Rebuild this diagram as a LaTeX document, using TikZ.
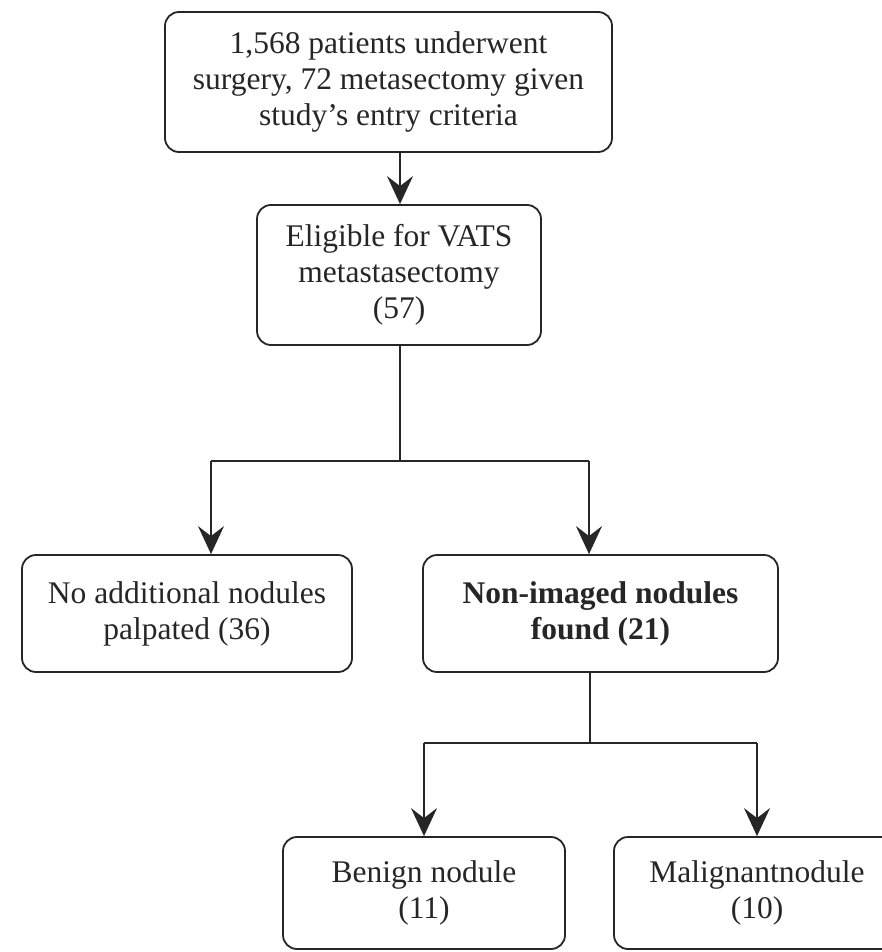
\documentclass[tikz,border=0pt]{standalone}
\usepackage{fontspec}
\setmainfont{Liberation Serif}
\usetikzlibrary{arrows.meta}
\begin{document}
\begin{tikzpicture}[x=0.5pt,y=-0.5pt,
  box/.style={draw=black!85, line width=0.9pt, rounded corners=7pt, align=center,
    inner sep=0pt, font=\fontsize{15.75}{18}\selectfont, text=black!85},
  conn/.style={draw=black!85, line width=0.8pt},
  arr/.style={conn, -{Stealth[length=14pt,width=13pt,inset=5pt]}}]
\useasboundingbox (0,0) rectangle (882,952);
\begin{scope}
\clip (0,0) rectangle (882,952);
\node[box, minimum width=223.5pt, minimum height=70pt] (top) at (388.5,82)
  {1,568 patients underwent\\surgery, 72 metasectomy given\\study's entry criteria};
\node[box, minimum width=142pt, minimum height=70pt] (elig) at (399,275)
  {Eligible for VATS\\metastasectomy\\(57)};
\node[box, minimum width=165pt, minimum height=58.5pt] (noadd) at (187,613.5)
  {No additional nodules\\palpated (36)};
\node[box, minimum width=177.5pt, minimum height=58.5pt] (nonim) at (600.5,613.5)
  {\bfseries Non-imaged nodules\\\bfseries found (21)};
\node[box, minimum width=141pt, minimum height=56pt] (benign) at (424,893)
  {Benign nodule\\(11)};
\node[box, minimum width=143pt, minimum height=56pt] (malig) at (757,893)
  {Malignantnodule\\(10)};
\end{scope}
\coordinate (a0) at (400,152);
\coordinate (j1) at (400,461);
\coordinate (j1l) at (211,461);
\coordinate (j1r) at (589,461);
\coordinate (s2) at (590,672);
\coordinate (j2) at (590,743);
\coordinate (j2l) at (424,743);
\coordinate (j2r) at (757,743);
\draw[arr] (a0) -- (a0 |- elig.north);
\draw[conn] (elig.south -| j1) -- (j1);
\draw[conn] (j1l) -- (j1r);
\draw[arr] (j1l) -- (j1l |- noadd.north);
\draw[arr] (j1r) -- (j1r |- nonim.north);
\draw[conn] (s2) -- (j2);
\draw[conn] (j2l) -- (j2r);
\draw[arr] (j2l) -- (j2l |- benign.north);
\draw[arr] (j2r) -- (j2r |- malig.north);
\end{tikzpicture}
\end{document}
